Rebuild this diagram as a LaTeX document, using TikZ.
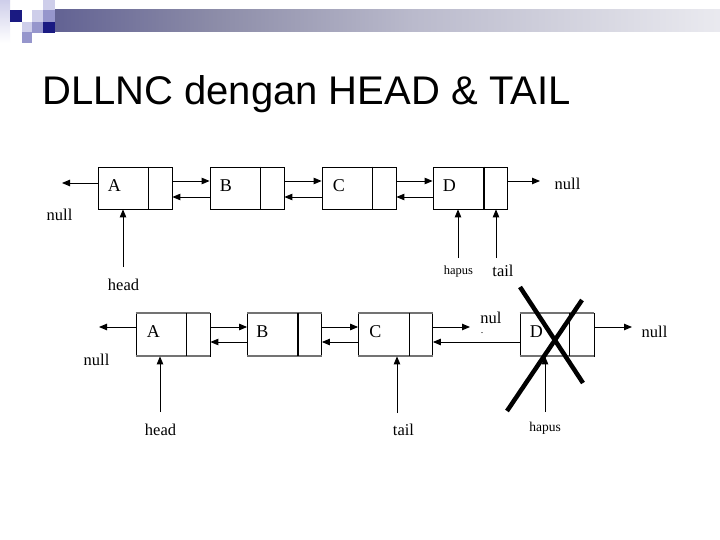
\documentclass[tikz,border=0pt]{standalone}
\usepackage{fontspec}
\setmainfont{Liberation Serif}
\newfontfamily\titlefont{Liberation Sans}
\usetikzlibrary{arrows.meta}
\definecolor{navy}{RGB}{26,26,130}
\definecolor{lav}{RGB}{150,150,204}
\definecolor{lavl}{RGB}{206,206,234}
\definecolor{barA}{RGB}{28,28,132}
\definecolor{barB}{RGB}{88,88,142}
\definecolor{barC}{RGB}{140,140,168}
\definecolor{barD}{RGB}{186,186,204}
\definecolor{barE}{RGB}{232,232,238}
\pgfdeclarehorizontalshading{barshade}{100bp}{color(0bp)=(barA); color(22bp)=(barB); color(37bp)=(barC); color(52bp)=(barD); color(74bp)=(barE); color(97bp)=(white); color(100bp)=(white)}
\begin{document}
\begin{tikzpicture}[x=1pt,y=-1pt,
  arr/.style={-{Triangle[length=8pt,width=6.5pt]}, line width=0.9pt},
  box/.style={draw, line width=0.8pt, minimum width=74pt, minimum height=42pt, inner sep=0pt},
  boxb/.style={draw, line width=0.8pt, minimum width=74pt, minimum height=43pt, inner sep=0pt},
  lbl/.style={inner sep=0pt, font=\fontsize{16.5}{16.5}\selectfont},
  let/.style={inner sep=0pt, font=\fontsize{18}{18}\selectfont, anchor=base west},
  lbls/.style={inner sep=0pt, font=\fontsize{12.5}{12.5}\selectfont},
  edge/.style={draw=black!55, line width=2pt},
  cross/.style={line width=4.5pt}]
\useasboundingbox (0,0) rectangle (720,540);
\fill[white] (0,0) rectangle (720,540);

% decoration
\shade[top color=lavl, bottom color=white] (0,0) rectangle (10,43);
\fill[lavl] (43,0) rectangle (55,10);
\fill[navy] (10,10) rectangle (22,22);
\fill[lavl] (32,10) rectangle (43,22);
\fill[lav] (43,10) rectangle (55,22);
\fill[lavl] (22,22) rectangle (32,32);
\fill[lav] (32,22) rectangle (43,33);
\fill[navy] (43,22) rectangle (55,33);
\fill[lav] (22,32) rectangle (32,43);
\shade[shading=barshade] (55,10) rectangle (720,32);

% title
\node[font=\titlefont\fontsize{40}{40}\selectfont, anchor=base west, inner sep=0pt] (title) at (42,105) {DLLNC dengan HEAD \& TAIL};

% top row
\node[box] (A1) at (135,188) {};
\node[box] (B1) at (247,188) {};
\node[box] (C1) at (359,188) {};
\node[box] (D1) at (470,188) {};
\foreach \n in {A1,B1,C1}{
  \draw[line width=0.8pt] ([xshift=51pt]\n.north west) -- ([xshift=51pt]\n.south west);
}
\draw[line width=2pt] ([xshift=51pt]D1.north west) -- ([xshift=51pt]D1.south west);
\node[let] (A1t) at ([xshift=10pt,yshift=-3.5pt]A1.west) {A};
\node[let] (B1t) at ([xshift=10pt,yshift=-3.5pt]B1.west) {B};
\node[let] (C1t) at ([xshift=11pt,yshift=-3.5pt]C1.west) {C};
\node[let] (D1t) at ([xshift=10pt,yshift=-3.5pt]D1.west) {D};

\draw[arr] ([yshift=7pt]A1.east) -- ([yshift=7pt]B1.west);
\draw[arr] ([yshift=7pt]B1.east) -- ([yshift=7pt]C1.west);
\draw[arr] ([yshift=7pt]C1.east) -- ([yshift=7pt]D1.west);
\draw[arr] ([yshift=-9pt]B1.west) -- ([yshift=-9pt]A1.east);
\draw[arr] ([yshift=-9pt]C1.west) -- ([yshift=-9pt]B1.east);
\draw[arr] ([yshift=-9pt]D1.west) -- ([yshift=-9pt]C1.east);

\coordinate (n1) at (62,183);
\coordinate (n2) at (540,181);
\draw[arr] ([yshift=5pt]A1.west) -- (n1);
\draw[arr] ([yshift=7pt]D1.east) -- (n2);
\node[lbl, anchor=base] (null1) at (59.5,221) {null};
\node[lbl, anchor=base] (null2) at (567.5,190) {null};

\coordinate (h1) at (123,267);
\coordinate (p1) at (458,258);
\coordinate (t1) at (496,258);
\draw[arr] (h1) -- (h1 |- A1.south);
\draw[arr] (p1) -- (p1 |- D1.south);
\draw[arr] (t1) -- (t1 |- D1.south);
\node[lbl, anchor=base] (head1) at (123.5,290) {head};
\node[lbls, anchor=base] (hapus1) at (458.5,274) {hapus};
\node[lbl, anchor=base] (tail1) at (503,276) {tail};

% bottom row
\node[boxb] (A2) at (173,334.5) {};
\node[boxb] (B2) at (284.5,334.5) {};
\node[boxb] (C2) at (395.5,334.5) {};
\node[boxb] (D2) at (557,334.5) {};
\foreach \n in {A2,B2,C2,D2}{
  \draw[edge] (\n.north west) -- (\n.north east);
  \draw[edge] (\n.south west) -- (\n.south east);
}
\foreach \n in {A2,C2}{
  \draw[line width=0.8pt] ([xshift=51pt]\n.north west) -- ([xshift=51pt]\n.south west);
}
\draw[line width=0.8pt] ([xshift=50pt]D2.north west) -- ([xshift=50pt]D2.south west);
\draw[line width=2pt] ([xshift=51pt]B2.north west) -- ([xshift=51pt]B2.south west);
\node[let] (A2t) at ([xshift=11pt,yshift=-3pt]A2.west) {A};
\node[let] (B2t) at ([xshift=9pt,yshift=-3pt]B2.west) {B};
\node[let] (C2t) at ([xshift=11pt,yshift=-3pt]C2.west) {C};
\node[let] (D2t) at ([xshift=10pt,yshift=-3pt]D2.west) {D};

\draw[arr] ([yshift=7.5pt]A2.east) -- ([yshift=7.5pt]B2.west);
\draw[arr] ([yshift=7.5pt]B2.east) -- ([yshift=7.5pt]C2.west);
\draw[arr] ([yshift=-7.5pt]B2.west) -- ([yshift=-7.5pt]A2.east);
\draw[arr] ([yshift=-7.5pt]C2.west) -- ([yshift=-7.5pt]B2.east);
\draw[arr] ([yshift=-7.5pt]D2.west) -- ([yshift=-7.5pt]C2.east);

\coordinate (n3) at (99,327);
\coordinate (n4) at (470,327);
\coordinate (n5) at (632,327);
\draw[arr] ([yshift=7.5pt]A2.west) -- (n3);
\draw[arr] ([yshift=7.5pt]C2.east) -- (n4);
\draw[arr] ([yshift=7.5pt]D2.east) -- (n5);
\node[lbl, anchor=base] (null3) at (96.5,365) {null};
\node[lbl, anchor=base] (nul4) at (491,323) {nul};
\node[inner sep=0pt, font=\fontsize{10}{10}\selectfont, anchor=base] (dot4) at (482,333) {.};
\node[lbl, anchor=base] (null5) at (654.5,337) {null};

\coordinate (h2) at (160,412);
\coordinate (t2) at (397,413);
\coordinate (p2) at (545,412);
\draw[arr] (h2) -- (h2 |- A2.south);
\draw[arr] (t2) -- (t2 |- C2.south);
\draw[arr] (p2) -- (p2 |- D2.south);
\node[lbl, anchor=base] (head2) at (160.5,435) {head};
\node[lbl, anchor=base] (tail2) at (403.5,435) {tail};
\node[lbls, font=\fontsize{13.5}{13.5}\selectfont, anchor=base] (hapus2) at (545,431) {hapus};

% cross over D
\draw[cross] (520,287) -- (583,383);
\draw[cross] (507,411) -- (582,300);
\end{tikzpicture}
\end{document}
